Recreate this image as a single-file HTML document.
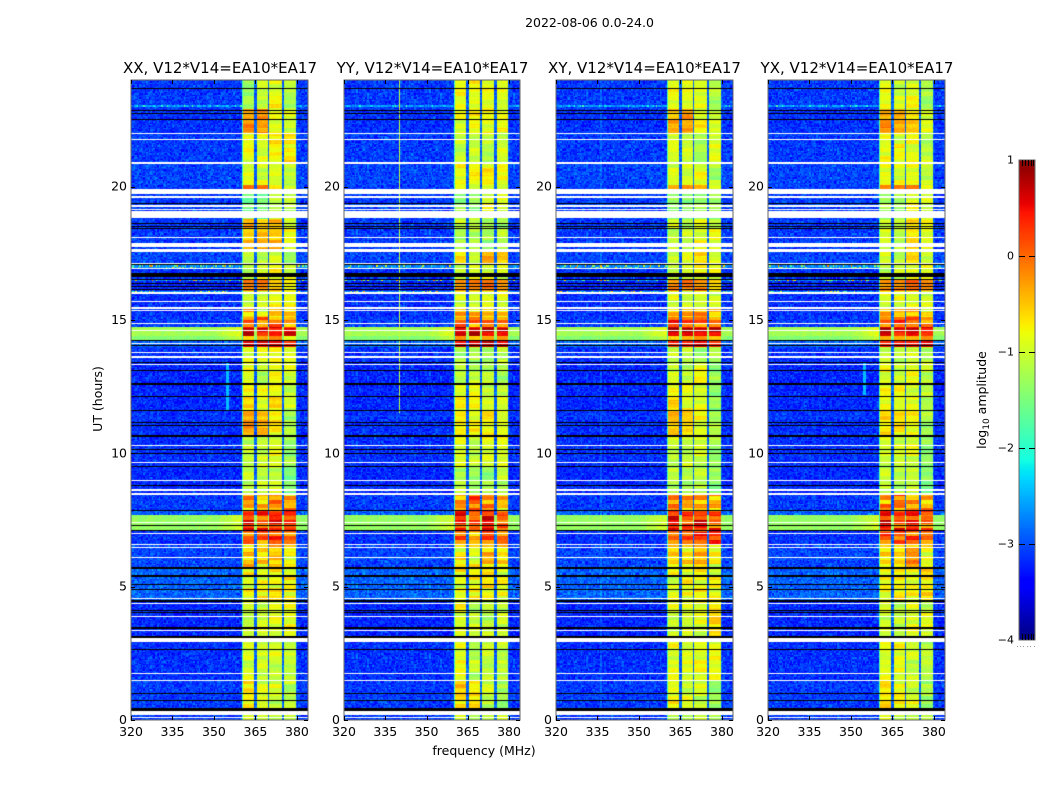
<!DOCTYPE html>
<html lang="en">
<head>
<meta charset="utf-8">
<title>2022-08-06 0.0-24.0 dynamic spectra</title>
<style>
html,body{margin:0;padding:0;background:#fff;}
#figure{position:relative;width:1050px;height:800px;overflow:hidden;background:#fff;font-family:"DejaVu Sans","Liberation Sans",sans-serif;}
canvas{position:absolute;display:block;}
svg{position:absolute;left:0;top:0;}
svg text{font-family:"DejaVu Sans","Liberation Sans",sans-serif;fill:#000;}
</style>
</head>
<body>
<div id="figure">
<canvas id="heat-xx" width="177" height="640" style="left:131px;top:80px"></canvas>
<canvas id="heat-yy" width="176" height="640" style="left:344px;top:80px"></canvas>
<canvas id="heat-xy" width="177" height="640" style="left:556px;top:80px"></canvas>
<canvas id="heat-yx" width="177" height="640" style="left:768px;top:80px"></canvas>
<canvas id="colorbar" width="16" height="480" style="left:1019px;top:160px"></canvas>
<svg id="overlay" width="1050" height="800" viewBox="0 0 1050 800">
<text x="589.5" y="27" text-anchor="middle" font-size="12.5">2022-08-06 0.0-24.0</text>
<text x="220" y="73" text-anchor="middle" font-size="15">XX, V12*V14=EA10*EA17</text>
<text x="432.5" y="73" text-anchor="middle" font-size="15">YY, V12*V14=EA10*EA17</text>
<text x="644.5" y="73" text-anchor="middle" font-size="15">XY, V12*V14=EA10*EA17</text>
<text x="857" y="73" text-anchor="middle" font-size="15">YX, V12*V14=EA10*EA17</text>
<text x="484" y="755" text-anchor="middle" font-size="12.5">frequency (MHz)</text>
<text transform="translate(102,399) rotate(-90)" text-anchor="middle" font-size="12.5">UT (hours)</text>
<text transform="translate(986,400) rotate(-90)" text-anchor="middle" font-size="12.5">log<tspan font-size="9" dy="3">10</tspan><tspan dy="-3"> amplitude</tspan></text>
</svg>
</div>
<script>
// ---- axis tick data ----
const freqTicks = [320, 335, 350, 365, 380];
const hourTicks = [0, 5, 10, 15, 20];
const colorTicks = [1, 0, -1, -2, -3, -4];
const colorTickLabels = ['1', '0', '\u22121', '\u22122', '\u22123', '\u22124'];

// ---- sub-band edges in MHz ----
const bandStart = [360, 365.5, 370, 375.3];
const bandEnd = [364.6, 369.5, 374.6, 379.7];

// ---- time blocks: top hour of each block (log10 amplitude tables follow) ----
const blockTopHour = [24, 22.875, 22, 20.9, 20.05, 19.9, 18.8, 17.6, 17.1, 16.5, 16.1, 15.4, 15.1, 14.77, 14.4, 14.2, 14, 13.4, 12.6, 11.6, 10.65, 9.5, 8.45, 7.85, 7.72, 7.1, 6.55, 5.75, 4.5, 3, 1.5, 0.375];
const backgroundLevel = [-3.1, -3.15, -3.1, -3.05, -3.1, -3.1, -3.1, -3.05, -3.15, -3.2, -3.15, -3.15, -3.1, -1.25, -1.45, -2.9, -3.15, -3.2, -3.2, -3.15, -3.15, -3.2, -3.1, -2.9, -1.35, -3.15, -3.05, -2.9, -3.2, -3.15, -3.1, -3.1];
const stripeDepth = [0.14, 0.14, 0.14, 0.14, 0.05, 0.14, 0.14, 0.14, 0.15, 0.08, 0.15, 0.35, 0.45, 0.28, 0.2, 0.12, 0.14, 0.14, 0.14, 0.14, 0.14, 0.14, 0.45, 0.25, 0.4, 0.45, 0.3, 0.25, 0.15, 0.15, 0.18, 0.1];

const xxLevels = [[-1.25,-1.05,-.85,-1.15],[-.29,-.29,-.85,-1],[-.85,-.95,-.8,-.71],[-.95,-1,-1,-1.15],[-.04,-.12,-.63,-.85],[-1.5,-1.5,-1.1,-1.15],[-.46,-.46,-.46,-.9],[-1.2,-1.1,-.95,-1.4],[-1.1,-.9,-.8,-1],[-.2,-.2,-.46,-.8],[-1.05,-1,-.9,-.85],[-.46,-.9,-.46,-.63],[-.05,-.15,-.05,-.3],[.55,.55,.55,.45],[-.46,-.46,-.46,-.63],[.5,.5,.5,.39],[-.9,-.85,-.71,-.9],[-.95,-1.15,-.85,-.95],[-.71,-.95,-.71,-1.1],[-.29,-.46,-.71,-1.2],[-1.05,-1.05,-.95,-1.3],[-1.15,-1.1,-1.05,-1.5],[-.35,-.55,-.25,-.4],[.45,.35,.2,.2],[.3,.1,.3,.1],[-.05,-.05,.1,.05],[-.5,-.65,-.42,-.85],[-.85,-.85,-.8,-.8],[-1.05,-1,-.9,-.85],[-.95,-1,-1,-1.1],[-.71,-.95,-1.05,-1.1],[-1.1,-1.1,-1.1,-1.2]];
const yyLevels = [[-.85,-.85,-.9,-.95],[-.85,-.8,-.8,-.85],[-1.1,-1.1,-1.2,-1],[-.85,-.8,-.8,-.85],[-.9,-.9,-1,-.9],[-1.3,-1.35,-.9,-1],[-1.15,-1.2,-1.3,-1.2],[-.8,-.9,-.37,-.46],[-1,-1,-.9,-1],[-.29,-.2,-.12,-.29],[-.95,-.95,-.95,-.95],[-.37,-.63,-.37,-.63],[-.1,-.1,-.1,-.1],[.75,.75,.68,.58],[-.46,-.46,-.46,-.46],[.56,.62,.62,.56],[-1.15,-1.2,-1.2,-1.1],[-1.2,-1.15,-1.2,-1.2],[-.85,-.8,-1,-1.05],[-.71,-.85,-.71,-.9],[-.95,-1.1,-.95,-.9],[-1.1,-1.3,-1.3,-1.1],[-.35,-.1,-.25,-.55],[.35,-.05,.35,-.1],[.3,-.05,.35,-.1],[-.1,-.25,.1,-.1],[-.71,-.9,-.55,-.71],[-.85,-.8,-.71,-.9],[-.9,-1.1,-1.15,-1.05],[-.85,-1.15,-1.05,-1.1],[-.55,-.71,-1.05,-1.3],[-1,-1.1,-1,-1]];
const xyLevels = [[-.9,-.85,-.95,-1.2],[-.46,-.37,-.8,-1.05],[-.95,-1.05,-1.25,-.9],[-.95,-1,-.95,-1.2],[-.29,-.29,-.46,-1],[-1.4,-1.4,-1.3,-1.3],[-1,-1.05,-.9,-.95],[-1.15,-1,-.63,-.9],[-1,-.95,-.8,-.9],[-.2,-.12,-.12,-.63],[-1,-1,-1,-1],[-.37,-.46,-.37,-.71],[.15,.15,-.1,-.25],[.7,.7,.65,.6],[-.46,-.46,-.46,-.46],[.47,.47,.47,.39],[-1.15,-1.2,-1.2,-1.2],[-1,-1.1,-.85,-1.4],[-.71,-.85,-.9,-1.35],[-.46,-.63,-.9,-1.2],[-1.1,-1.1,-1,-1.3],[-1.2,-1.2,-1.15,-1.4],[-.2,-.4,-.35,-.45],[.4,.1,.25,.1],[.4,.1,.25,.1],[-.1,-.05,.15,.15],[-.63,-.71,-.46,-.85],[-.9,-.8,-.8,-.9],[-1,-1,-.9,-.63],[-.9,-.95,-.9,-.9],[-.8,-1,-1,-1.3],[-1.1,-1.1,-1.1,-1.1]];
const yxLevels = [[-.9,-1,-.9,-1.25],[-.29,-.37,-.55,-1],[-.85,-.9,-.85,-1.1],[-.9,-.95,-.9,-1.05],[-.29,-.2,-.12,-.85],[-1.2,-1.3,-.85,-1],[-1,-1.15,-.63,-.9],[-1,-1,-.63,-.9],[-1,-1,-.9,-1],[-.29,-.2,-.04,-.2],[-1,-1,-1,-1],[-.37,-.63,-.37,-.9],[-.1,.1,0,-.3],[.68,.6,.52,.43],[-.46,-.46,-.46,-.46],[.47,.47,.56,.47],[-1.05,-1.2,-1.1,-1.2],[-.85,-1,-.85,-1.05],[-.85,-.85,-.9,-1.15],[-.63,-.71,-.8,-1.3],[-1,-1,-.95,-1.35],[-1.1,-1.15,-1.1,-1.5],[-.25,-.2,-.3,-.45],[.4,.15,.3,.05],[.4,.15,.3,.05],[-.05,-.1,0,-.1],[-.63,-.63,-.35,-.85],[-.85,-.8,-.85,-.71],[-.95,-1.05,-.9,-1],[-.9,-.9,-1.05,-1.15],[-.63,-.8,-1,-1.3],[-1,-1,-1.1,-1.2]];

// ---- flagged time ranges, [start hour, end hour] ----
const blackFlags = [[23.66,23.70],[22.82,22.875],[22.74,22.78],[22.50,22.54],[19.35,19.39],[18.60,18.64],[18.51,18.54],[18.41,18.45],[17.06,17.10],[16.61,16.76],[16.50,16.54],[16.35,16.39],[16.24,16.28],[16.14,16.18],[14.21,14.25],[14.03,14.06],[13.41,13.44],[13.07,13.125],[12.56,12.62],[12.11,12.15],[11.59,11.64],[11.14,11.175],[11.04,11.08],[10.63,10.69],[10.14,10.18],[9.96,10.01],[9.47,9.525],[8.775,8.81],[7.84,7.875],[7.275,7.31],[7.07,7.125],[5.68,5.74],[5.38,5.42],[5.06,5.10],[4.875,4.91],[4.425,4.50],[4.09,4.125],[4.01,4.05],[3.43,3.47],[3.09,3.15],[2.625,2.66],[0.975,1.01],[0.71,0.75],[0.356,0.45]];
const whiteFlags = [[21.975,22.01],[21.75,21.79],[20.85,20.925],[19.725,19.91],[19.59,19.65],[19.29,19.33],[19.22,19.26],[19.14,19.18],[18.825,19.09],[18.075,18.11],[17.74,17.89],[17.55,17.66],[17.10,17.14],[16.91,16.95],[15.975,16.05],[15.675,15.71],[15.43,15.47],[15.34,15.375],[14.85,14.89],[14.59,14.625],[14.10,14.14],[13.76,13.80],[13.575,13.65],[13.31,13.35],[10.275,10.31],[9.64,9.675],[8.96,9.0],[8.59,8.66],[8.475,8.51],[8.44,8.475],[7.39,7.425],[6.975,7.01],[6.56,6.6],[6.45,6.49],[6.075,6.11],[4.54,4.575],[4.35,4.39],[3.86,3.90],[3.34,3.375],[2.94,3.06],[1.725,1.76],[1.46,1.5],[0.19,0.356],[0.075,0.11]];

// ---- interference: sparse noisy rows, and narrow vertical lines ----
const noisyRowHours = [23.02, 17.0, 16.5, 16.08];
const noisyRowStrength = [1.3, 2.6, 2.9, 2.6];
const lineMHz = [355, 340.1, 355];
const linePanel = [0, 1, 3];
const lineFromHour = [11.6, 11.5, 12.2];
const lineToHour = [13.4, 24, 13.4];
const lineLevel = [-2.45, -1.1, -2.45];

// ---- hand-read texture residuals ----
const cellResidual = [0.31,-0.72,0.05,0.88,-0.41,-0.13,0.62,-0.95,0.27,-0.34,0.74,0.11,-0.58,0.43,-0.86,0.19,0.96,-0.22,-0.67,0.36,0.02,-0.49,0.81,-0.08,0.55,-0.77,0.24,-0.31,0.69,-0.15,-0.91,0.47,0.13,-0.53,0.84,-0.26,0.39,-0.64,0.58,-0.04,-0.83,0.29,0.72,-0.37,0.08,-0.6,0.91,-0.18,0.33,-0.45,0.66,-0.99,0.17];
const rowResidual = [0.8,-0.5,0.2,0.95,-0.85,0.35,-0.15,0.65,-0.95,0.5,0.1,-0.7,0.9,-0.3,-0.6,0.75,0.05,-0.9,0.45,-0.2,0.85,-0.55,0.3,-0.8,0.6,-0.1,0.7,-0.4,0.15];

// ---- layout and axis functions ----
const CHANNEL_MHZ = 0.5;
const ROW_HOURS = 0.05;
const CHANNELS = 128;
const ROWS = 480;
function xScale(mhz, width) { return (mhz - 320) * width / 64; }
function yScale(hour) { return (24 - hour) * 640 / 24; }
function segment(t, pts) {
  for (let k = 1; k < pts.length; k++) {
    if (t <= pts[k][0]) {
      const a = pts[k - 1], b = pts[k];
      return a[1] + (b[1] - a[1]) * (t - a[0]) / (b[0] - a[0]);
    }
  }
  return pts[pts.length - 1][1];
}
function jet(level) {
  const t = Math.max(0, Math.min(1, (level + 4) / 5));
  const r = segment(t, [[0,0],[0.35,0],[0.66,1],[0.89,1],[1,0.5]]);
  const g = segment(t, [[0,0],[0.125,0],[0.375,1],[0.64,1],[0.91,0],[1,0]]);
  const b = segment(t, [[0,0.5],[0.11,1],[0.34,1],[0.65,0],[1,0]]);
  return 'rgb(' + Math.round(r * 255) + ',' + Math.round(g * 255) + ',' + Math.round(b * 255) + ')';
}
function blockAt(hour) {
  let idx = 0;
  for (let k = 0; k < blockTopHour.length; k++) {
    if (hour <= blockTopHour[k]) idx = k;
  }
  return idx;
}
function bandAt(mhz) {
  for (let k = 0; k < bandStart.length; k++) {
    if (mhz >= bandStart[k] && mhz < bandEnd[k]) return k;
  }
  return -1;
}
function cellLevel(panel, table, ch, row) {
  const mhz = 320 + (ch + 0.5) * CHANNEL_MHZ;
  const hour = (row + 0.5) * ROW_HOURS;
  const b = blockAt(hour);
  const L = cellResidual.length;
  const i1 = (ch * 31 + row * row * 3 + ch * row * 5 + panel * 11) % L;
  const i2 = (ch * ch * 5 + row * 19 + ch * row * 11 + panel * 7) % L;
  const n = (cellResidual[i1] + cellResidual[i2]) * 0.65;
  const R = rowResidual.length;
  const rn = rowResidual[(row + panel) % R];
  const band = bandAt(mhz);
  const bg = backgroundLevel[b];
  if (band >= 0) {
    const stripe = rowResidual[(Math.floor(row / 3) + panel * 4 + band * 2) % R];
    const patch = rowResidual[(Math.floor(row / 9) + band * 5 + panel * 3) % R];
    let v = table[b][band] + stripe * stripeDepth[b] + patch * 0.14 + rn * 0.05 + n * 0.08;
    if (band === 0 && mhz < 360.5) v = Math.min(v, -1.9);
    return v;
  }
  if (mhz >= 360 && mhz < 380) {
    return Math.max(-2.9 + n * 0.25, bg > -2 ? bg : -9);
  }
  let v = bg + n * (bg > -2 ? 0.14 : 0.34);
  if (bg > -2 && mhz > 350 && mhz < 360) v += 0.04 * (mhz - 350);
  for (let k = 0; k < lineMHz.length; k++) {
    if (linePanel[k] === panel && Math.abs(mhz - lineMHz[k]) < 0.26 && hour >= lineFromHour[k] && hour <= lineToHour[k]) {
      v = lineLevel[k];
    }
  }
  for (let k = 0; k < noisyRowHours.length; k++) {
    if (Math.abs(hour - noisyRowHours[k]) < ROW_HOURS * 0.6) {
      v = n > 0.45 ? -3.1 + n * noisyRowStrength[k] : v + 0.5;
    }
  }
  return v;
}

// ---- draw heatmaps ----
const panelIds = ['heat-xx', 'heat-yy', 'heat-xy', 'heat-yx'];
const panelTables = [xxLevels, yyLevels, xyLevels, yxLevels];
const panelLeft = [131, 344, 556, 768];
const panelWidth = [177, 176, 177, 177];
panelIds.forEach(function (id, p) {
  const cv = document.getElementById(id);
  const ctx = cv.getContext('2d');
  const w = panelWidth[p];
  for (let row = 0; row < ROWS; row++) {
    const y0 = Math.round(yScale((row + 1) * ROW_HOURS));
    const y1 = Math.round(yScale(row * ROW_HOURS));
    for (let ch = 0; ch < CHANNELS; ch++) {
      const x0 = Math.round(xScale(320 + ch * CHANNEL_MHZ, w));
      const x1 = Math.round(xScale(320 + (ch + 1) * CHANNEL_MHZ, w));
      ctx.fillStyle = jet(cellLevel(p, panelTables[p], ch, row));
      ctx.fillRect(x0, y0, x1 - x0, y1 - y0);
    }
  }
  function drawFlags(list, color) {
    ctx.fillStyle = color;
    list.forEach(function (f) {
      const top = Math.round(yScale(f[1]));
      const bottom = Math.round(yScale(f[0]));
      ctx.fillRect(0, top, w, Math.max(1, bottom - top));
    });
  }
  drawFlags(whiteFlags, '#fff');
  drawFlags(blackFlags, '#000');
});

// ---- draw colorbar ----
(function () {
  const ctx = document.getElementById('colorbar').getContext('2d');
  for (let py = 0; py < 480; py++) {
    ctx.fillStyle = jet(1 - (py + 0.5) * 5 / 480);
    ctx.fillRect(0, py, 16, 1);
  }
})();

// ---- SVG axes ----
const NS = 'http://www.w3.org/2000/svg';
const overlay = document.getElementById('overlay');
function addLine(x1, y1, x2, y2, color, width) {
  const el = document.createElementNS(NS, 'line');
  el.setAttribute('x1', x1);
  el.setAttribute('y1', y1);
  el.setAttribute('x2', x2);
  el.setAttribute('y2', y2);
  el.setAttribute('stroke', color);
  el.setAttribute('stroke-width', width);
  overlay.appendChild(el);
  return el;
}
function addText(x, y, anchor, size, str) {
  const el = document.createElementNS(NS, 'text');
  el.setAttribute('x', x);
  el.setAttribute('y', y);
  el.setAttribute('text-anchor', anchor);
  el.setAttribute('font-size', size);
  el.textContent = str;
  overlay.appendChild(el);
  return el;
}
const panelNames = ['xx', 'yy', 'xy', 'yx'];
panelLeft.forEach(function (left, p) {
  const w = panelWidth[p];
  const frame = document.createElementNS(NS, 'rect');
  frame.setAttribute('x', left);
  frame.setAttribute('y', 80);
  frame.setAttribute('width', w);
  frame.setAttribute('height', 640);
  frame.setAttribute('fill', 'none');
  frame.setAttribute('stroke', '#666');
  frame.setAttribute('stroke-width', 1);
  
  
  overlay.appendChild(frame);
  freqTicks.forEach(function (f) {
    const x = Math.round(left + xScale(f, w)) + 0.5;
    const tickBottom = addLine(x, 720, x, 716, '#000', 1);
    
    
    const tickTop = addLine(x, 80, x, 84, '#000', 1);
    
    
    const label = addText(left + xScale(f, w), 736, 'middle', 12.5, String(f));
    
    
  });
  hourTicks.forEach(function (h) {
    const y = Math.round(80 + yScale(h)) + 0.5;
    const tickLeft = addLine(left, y, left + 4, y, '#000', 1);
    
    
    const tickRight = addLine(left + w - 4, y, left + w, y, '#000', 1);
    
    
    const label = addText(left - 4, 80 + yScale(h) + 4, 'end', 12.5, String(h));
    
    
  });
});

// ---- colorbar frame, ticks, labels ----
const cbFrame = document.createElementNS(NS, 'rect');
cbFrame.setAttribute('x', 1019);
cbFrame.setAttribute('y', 160);
cbFrame.setAttribute('width', 16);
cbFrame.setAttribute('height', 480);
cbFrame.setAttribute('fill', 'none');
cbFrame.setAttribute('stroke', '#666');
cbFrame.setAttribute('stroke-width', 1);


overlay.appendChild(cbFrame);
colorTicks.forEach(function (v, k) {
  const y = 160 + (1 - v) * 96;
  if (k > 0 && k < colorTicks.length - 1) {
    const left = addLine(1019, y + 0.5, 1025, y + 0.5, '#000', 1);
    
    
    const right = addLine(1029, y + 0.5, 1035, y + 0.5, '#000', 1);
    
    
  }
  const label = addText(1014, y + 3.5, 'end', 11, colorTickLabels[k]);
  
  
});
[1022, 1025, 1028, 1031, 1033].forEach(function (x) {
  const topMark = addLine(x + 0.5, 160, x + 0.5, 166, '#000', 1);
  
  
  const bottomMark = addLine(x + 0.5, 634, x + 0.5, 640, '#000', 1);
  
  
});
[1017, 1020, 1023, 1027, 1030, 1034].forEach(function (x) {
  const dot = addLine(x, 646.5, x + 1, 646.5, '#999', 1);
  
  
});
</script>
</body>
</html>
